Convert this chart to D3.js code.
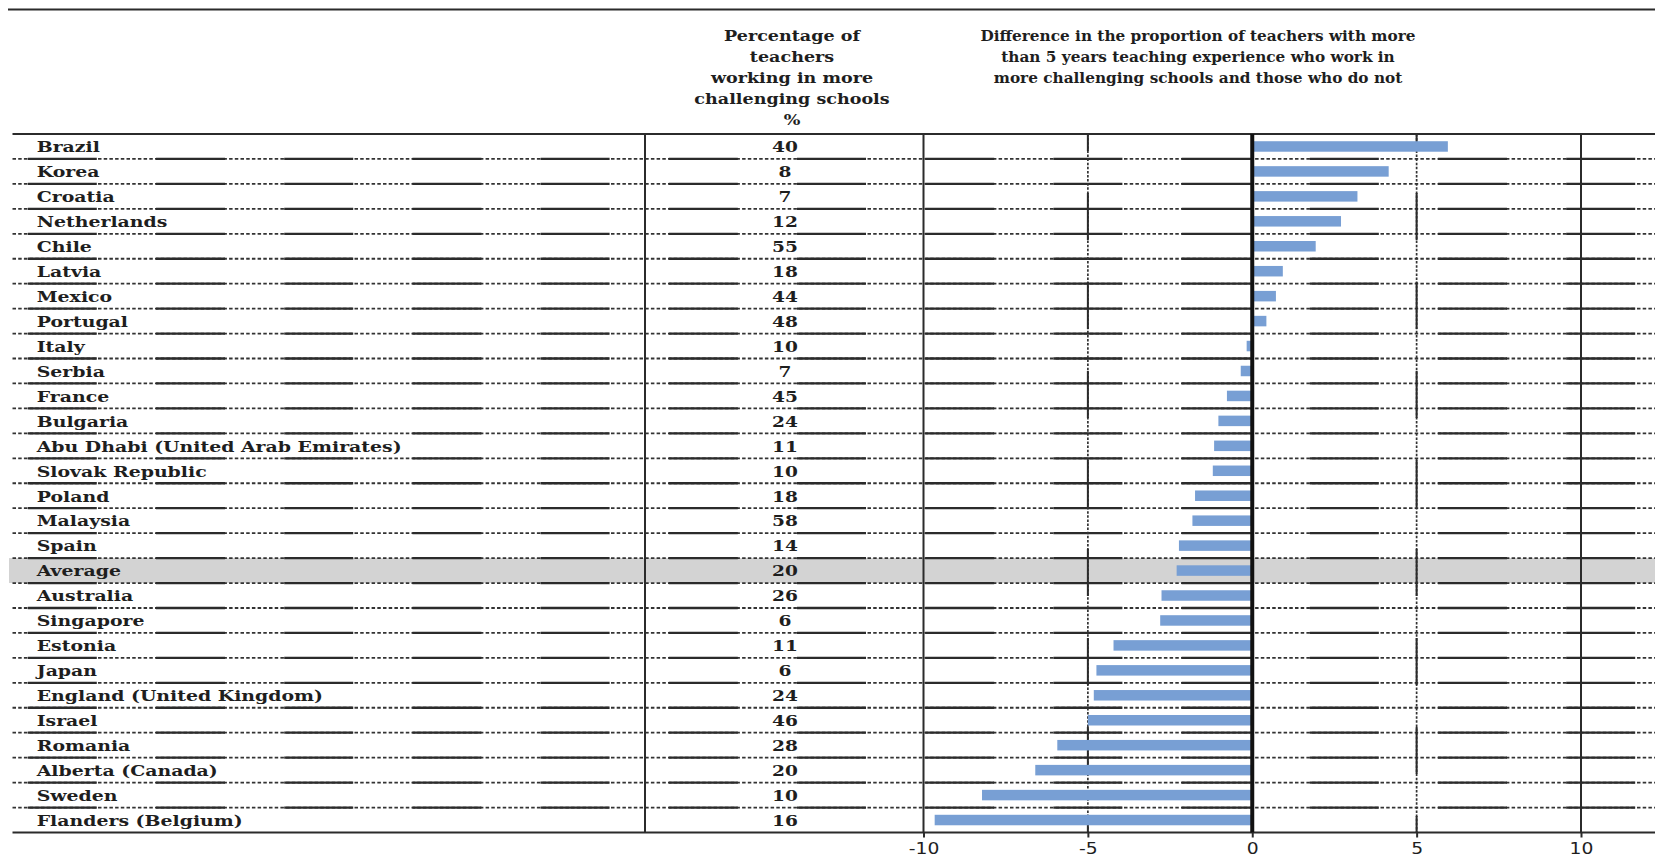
<!DOCTYPE html>
<html>
<head>
<meta charset="utf-8">
<script src="https://cdn.jsdelivr.net/npm/d3@7"></script>
<style>
  html, body { margin: 0; padding: 0; background: #fff; }
  svg { display: block; }
  text { fill: #1e1e1e; }
</style>
</head>
<body>
<svg id="chart" width="1655" height="857"></svg>
<script>
// ---------------- data ----------------
const countries = [
  "Brazil", "Korea", "Croatia", "Netherlands", "Chile", "Latvia", "Mexico", "Portugal",
  "Italy", "Serbia", "France", "Bulgaria", "Abu Dhabi (United Arab Emirates)", "Slovak Republic",
  "Poland", "Malaysia", "Spain", "Average", "Australia", "Singapore", "Estonia", "Japan",
  "England (United Kingdom)", "Israel", "Romania", "Alberta (Canada)", "Sweden", "Flanders (Belgium)"
];
const pctChallenging = [40, 8, 7, 12, 55, 18, 44, 48, 10, 7, 45, 24, 11, 10, 18, 58, 14, 20, 26, 6, 11, 6, 24, 46, 28, 20, 10, 16];
const diffExperienced = [5.95, 4.15, 3.2, 2.7, 1.93, 0.93, 0.72, 0.43, -0.17, -0.35, -0.77, -1.03, -1.16, -1.2,
  -1.74, -1.82, -2.23, -2.3, -2.76, -2.8, -4.22, -4.74, -4.82, -5.0, -5.93, -6.6, -8.22, -9.66];
const xTicks = [-10, -5, 0, 5, 10];
const headerLeft = ["Percentage of", "teachers", "working in more", "challenging schools", "%"];
const headerRight = ["Difference in the proportion of teachers with more",
  "than 5 years teaching experience who work in",
  "more challenging schools and those who do not"];
const highlight = "Average";

// ---------------- layout ----------------
const W = 1655, H = 857;
const tableTop = 134, tableBottom = 832.5;
const lineLeft = 12.5;
const serif = "'DejaVu Serif', serif";
const ink = "#2b2b2b";

const svg = d3.select("#chart");
const y = d3.scaleBand().domain(countries).range([tableTop, tableBottom]).padding(0);
const x = d3.scaleLinear().domain([-10, 10]).range([923.5, 1581]);
const rowH = y.bandwidth();

// highlight band
svg.append("rect")
  .attr("x", 9).attr("y", y(highlight))
  .attr("width", W - 9).attr("height", rowH)
  .attr("fill", "#d3d3d3");

// top rule
svg.append("line").attr("x1", 8).attr("x2", W).attr("y1", 9.5).attr("y2", 9.5)
  .attr("stroke", ink).attr("stroke-width", 2);
// header bottom rule and table bottom rule
[tableTop, tableBottom].forEach(v => {
  svg.append("line").attr("x1", lineLeft).attr("x2", W).attr("y1", v).attr("y2", v)
    .attr("stroke", ink).attr("stroke-width", 2);
});

// row separators (dotted + solid dash pattern)
const seps = countries.slice(1).map(c => y(c));
const hPeriod = 128.2, hSolid = 69, hSolidStart = 156;
const hOffset = ((-(hSolidStart - lineLeft)) % hPeriod + hPeriod) % hPeriod;
const sepG = svg.append("g");
sepG.selectAll("line.dot").data(seps).join("line")
  .attr("x1", lineLeft).attr("x2", W).attr("y1", d => d).attr("y2", d => d)
  .attr("stroke", "#333").attr("stroke-width", 1.8).attr("stroke-dasharray", "3.5,2.2");
sepG.selectAll("line.sol").data(seps).join("line")
  .attr("x1", lineLeft).attr("x2", W).attr("y1", d => d).attr("y2", d => d)
  .attr("stroke", ink).attr("stroke-width", 2.3)
  .attr("stroke-dasharray", hSolid + "," + (hPeriod - hSolid))
  .attr("stroke-dashoffset", hOffset);

// vertical column separator and -10/10 gridlines
[645, x(-10), x(10)].forEach(v => {
  svg.append("line").attr("x1", v).attr("x2", v).attr("y1", tableTop).attr("y2", tableBottom)
    .attr("stroke", ink).attr("stroke-width", 2);
});
// +-5 gridlines (dotted + solid pattern)
const vPeriod = 89, vSolid = 47, vSolidStart = 193;
const vOffset = ((-(vSolidStart - tableTop)) % vPeriod + vPeriod) % vPeriod;
[-5, 5].forEach(t => {
  const v = x(t);
  svg.append("line").attr("x1", v).attr("x2", v).attr("y1", tableTop).attr("y2", tableBottom)
    .attr("stroke", "#333").attr("stroke-width", 1.7).attr("stroke-dasharray", "2.5,1.6");
  svg.append("line").attr("x1", v).attr("x2", v).attr("y1", tableTop).attr("y2", tableBottom)
    .attr("stroke", ink).attr("stroke-width", 2)
    .attr("stroke-dasharray", vSolid + "," + (vPeriod - vSolid))
    .attr("stroke-dashoffset", vOffset);
});

// bars
const barH = 10.5;
svg.append("g").selectAll("rect").data(countries).join("rect")
  .attr("x", (d, i) => Math.min(x(0), x(diffExperienced[i])))
  .attr("y", d => y(d) + rowH / 2 - barH / 2)
  .attr("width", (d, i) => Math.abs(x(diffExperienced[i]) - x(0)))
  .attr("height", barH)
  .attr("fill", "#789fd4");

// zero line
svg.append("line").attr("x1", x(0)).attr("x2", x(0)).attr("y1", tableTop).attr("y2", tableBottom)
  .attr("stroke", "#111").attr("stroke-width", 4);

// text helper with horizontal glyph stretch
function stretchedText(g, tx, ty, str, anchor, sx) {
  return g.append("text")
    .attr("transform", `translate(${tx},${ty}) scale(${sx},1)`)
    .attr("text-anchor", anchor)
    .attr("font-family", serif).attr("font-weight", "bold").attr("font-size", 15)
    .text(str);
}
const labG = svg.append("g");
countries.forEach((c, i) => {
  const cy = y(c) + rowH / 2 + 5.8;
  stretchedText(labG, 36.7, cy, c, "start", 1.26);
  stretchedText(labG, 785, cy, String(pctChallenging[i]), "middle", 1.24);
});

// headers
headerLeft.forEach((t, i) => stretchedText(svg, 792, 41 + i * 21, t, "middle", 1.17));
headerRight.forEach((t, i) => stretchedText(svg, 1198, 41 + i * 21, t, "middle", 1.02));

// x axis
const axis = d3.axisBottom(x).tickValues(xTicks).tickSize(5).tickPadding(6)
  .tickFormat(d => String(d));
const ax = svg.append("g").attr("transform", `translate(0,${tableBottom})`).call(axis);
ax.select(".domain").remove();
ax.selectAll(".tick line").attr("stroke", ink).attr("stroke-width", 2);
ax.selectAll(".tick text")
  .attr("font-family", "'DejaVu Sans', sans-serif").attr("font-size", 15)
  .attr("fill", "#222")
  .attr("transform", "scale(1.25,1)");
</script>
</body>
</html>
